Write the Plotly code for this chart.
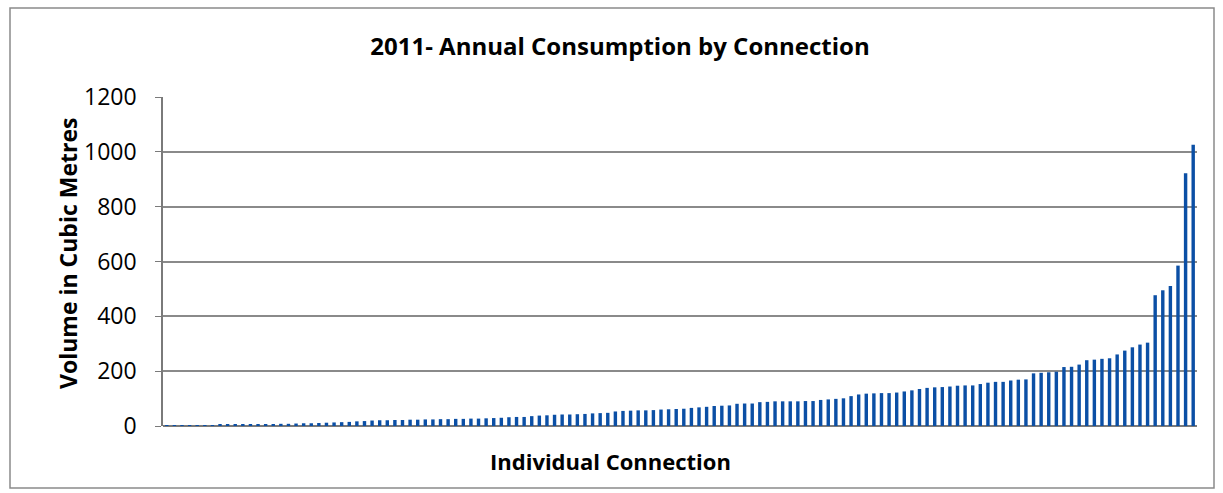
import plotly.graph_objects as go

# Annual consumption per connection (m³), sorted ascending
consumption = [
    1, 1, 2, 2, 3, 3, 3, 4, 4, 5, 5, 6, 6, 7, 7, 8, 8, 9, 10, 10, 11,
    12, 13, 14, 15, 17, 18, 20, 21, 21, 22, 22, 23, 23, 24, 24, 25, 25, 26, 26, 27, 27, 28, 29,
    30, 32, 33, 33, 36, 38, 39, 41, 42, 42, 43, 44, 46, 47, 48, 53, 55, 56, 57, 57, 58, 60,
    61, 62, 63, 66, 68, 70, 73, 74, 75, 81, 82, 82, 87, 88, 90, 90, 90, 90, 91, 91,
    95, 97, 99, 101,
    109, 115, 118, 119, 120, 120, 122, 126, 130, 135, 139, 141, 142, 144, 147, 148, 148, 153,
    158, 161, 161, 166, 169, 170,
    192, 194, 196, 198, 215, 216, 224, 240, 242,
    245, 247, 261, 275, 287, 297, 304,
    477, 495, 511, 585, 922, 1026,
]
connections = list(range(1, len(consumption) + 1))
y_ticks = [0, 200, 400, 600, 800, 1000, 1200]

title_text = "2011- Annual Consumption by Connection"
x_title = "Individual Connection"
y_title = "Volume in Cubic Metres"

FONT = "Open Sans"

fig = go.Figure(
    go.Bar(
        x=connections,
        y=consumption,
        marker=dict(color="#0B4FA5", line=dict(width=0)),
        hoverinfo="x+y",
    )
)

W, H = 1223, 493
L, R, T, B = 163, 26, 97, 67
pw, ph = W - L - R, H - T - B

def px_x(px):
    return (px - L) / pw

def px_y(py):
    return (H - B - py) / ph

fig.update_layout(
    width=W,
    height=H,
    margin=dict(l=L, r=R, t=T, b=B),
    paper_bgcolor="white",
    plot_bgcolor="white",
    bargap=0.55,
    showlegend=False,
    font=dict(family=FONT, color="black"),
    title=dict(
        text=f"<b>{title_text}</b>",
        x=620 / W,
        xref="container",
        xanchor="center",
        y=1 - 47 / H,
        yref="container",
        yanchor="middle",
        font=dict(family=FONT, size=24, color="black"),
    ),
    xaxis=dict(
        range=[0.5, len(consumption) + 0.5],
        showticklabels=False,
        showgrid=False,
        zeroline=False,
        showline=False,
        ticks="",
    ),
    yaxis=dict(
        range=[0, 1200],
        tickvals=y_ticks,
        ticktext=[str(v) for v in y_ticks],
        tickfont=dict(family=FONT, size=23, color="black"),
        showgrid=True,
        gridcolor="#8a8a8a",
        gridwidth=1.5,
        zeroline=True,
        zerolinecolor="#7a7a7a",
        zerolinewidth=1.5,
        showline=True,
        linecolor="#7a7a7a",
        linewidth=1.5,
        ticks="outside",
        ticklen=6,
        tickcolor="#7a7a7a",
        ticklabelstandoff=14,
    ),
    annotations=[
        dict(
            text=f"<b>{y_title}</b>",
            x=px_x(68), y=px_y(254),
            xref="paper", yref="paper",
            textangle=-90, showarrow=False,
            xanchor="center", yanchor="middle",
            font=dict(family=FONT, size=23, color="black"),
        ),
        dict(
            text=f"<b>{x_title}</b>",
            x=px_x(610), y=px_y(461),
            xref="paper", yref="paper",
            showarrow=False,
            xanchor="center", yanchor="middle",
            font=dict(family=FONT, size=22, color="black"),
        ),
    ],
    shapes=[
        dict(
            type="rect", xref="paper", yref="paper",
            x0=px_x(10), x1=px_x(1214), y0=px_y(488), y1=px_y(8),
            line=dict(color="#8a8a8a", width=1.5),
            fillcolor="rgba(0,0,0,0)", layer="below",
        )
    ],
)

fig.write_html("out.html")
